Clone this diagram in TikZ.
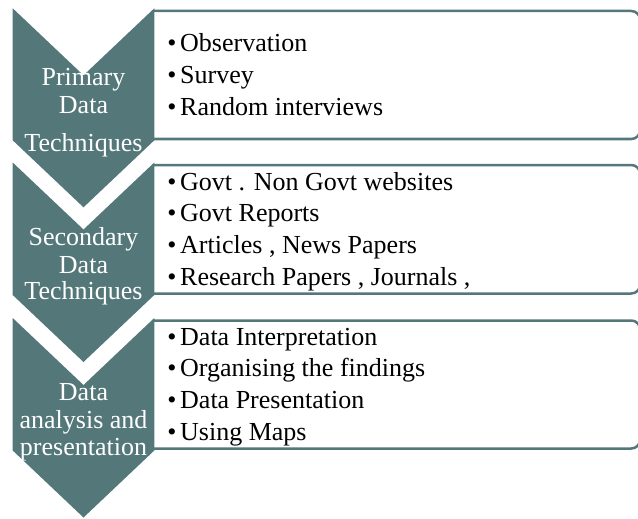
\documentclass[tikz,border=0pt]{standalone}
\usepackage{fontspec}
\setmainfont{Liberation Serif}
\definecolor{chev}{RGB}{84,119,122}
\tikzset{
  chevshape/.style={fill=chev, draw=none},
  listbox/.style={draw=chev, line width=2.5pt, rounded corners=9pt},
  chevtext/.style={text=white, font=\fontsize{26}{28}\selectfont, anchor=base, inner sep=0pt},
  itemtext/.style={text=black, font=\fontsize{26}{30}\selectfont, anchor=base west, inner sep=0pt},
}
% one bulleted line of a list box
\newcommand{\bitem}[1]{\makebox[12.9pt][l]{\textbullet}#1}
\begin{document}
\begin{tikzpicture}[x=1pt, y=-1pt]
  \useasboundingbox (0,0) rectangle (638,519);

  % list boxes (left side hidden under the chevrons, right side runs off the page)
  \begin{scope}
    \clip (0,0) rectangle (638,519);
    \draw[listbox] (154,11) -- (640.2,11) -- (640.2,139) -- (154,139);
    \draw[listbox] (154,165) -- (640.2,165) -- (640.2,293.5) -- (154,293.5);
    \draw[listbox] (154,320.5) -- (640.2,320.5) -- (640.2,448.5) -- (154,448.5);
  \end{scope}

  % chevrons
  \fill[chevshape] (12.7,8.3) -- (83.5,75.3) -- (154.3,8.3) -- (154.3,140.3) -- (83.5,207.3) -- (12.7,140.3) -- cycle;
  \fill[chevshape] (12.7,162.5) -- (83.5,229.5) -- (154.3,162.5) -- (154.3,295) -- (83.5,362) -- (12.7,295) -- cycle;
  \fill[chevshape] (12.7,318) -- (83.5,385) -- (154.3,318) -- (154.3,450.5) -- (83.5,517.5) -- (12.7,450.5) -- cycle;

  % chevron labels
  \node[chevtext] (c1a) at (83.5,85) {Primary};
  \node[chevtext] (c1b) at (83.5,113.3) {Data};
  \node[chevtext] (c1c) at (83.5,151.7) {Techniques};
  \node[chevtext] (c2a) at (83.5,245) {Secondary};
  \node[chevtext] (c2b) at (83.5,273.3) {Data};
  \node[chevtext] (c2c) at (83.5,299.3) {Techniques};
  \node[chevtext] (c3a) at (83.5,400) {Data};
  \node[chevtext] (c3b) at (83.5,428) {analysis and};
  \node[chevtext] (c3c) at (83.5,455) {presentation};

  % list items
  \node[itemtext] (i1a) at (167.1,51.7) {\bitem{Observation}};
  \node[itemtext] (i1b) at (167.1,83.4) {\bitem{Survey}};
  \node[itemtext] (i1c) at (167.1,115.1) {\bitem{Random interviews}};

  \node[itemtext] (i2a) at (167.1,190) {\bitem{Govt . Non Govt websites}};
  \node[itemtext] (i2b) at (167.1,221.7) {\bitem{Govt Reports}};
  \node[itemtext] (i2c) at (167.1,253.4) {\bitem{Articles , News Papers}};
  \node[itemtext] (i2d) at (167.1,285.1) {\bitem{Research Papers , Journals ,}};

  \node[itemtext] (i3a) at (167.1,345) {\bitem{Data Interpretation}};
  \node[itemtext] (i3b) at (167.1,376.7) {\bitem{Organising the findings}};
  \node[itemtext] (i3c) at (167.1,408.4) {\bitem{Data Presentation}};
  \node[itemtext] (i3d) at (167.1,440.1) {\bitem{Using Maps}};
\end{tikzpicture}
\end{document}
